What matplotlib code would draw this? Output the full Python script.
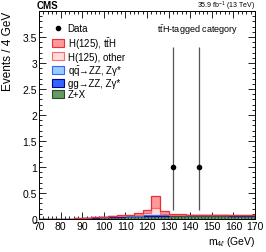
import numpy as np
import matplotlib
matplotlib.use("Agg")
import matplotlib.pyplot as plt
from matplotlib.patches import Patch
from matplotlib.lines import Line2D
from matplotlib.ticker import MultipleLocator, FixedLocator

plt.rcParams['font.family'] = ['Liberation Sans', 'DejaVu Sans']
plt.rcParams['mathtext.fontset'] = 'custom'
plt.rcParams['mathtext.rm'] = 'Liberation Sans'
plt.rcParams['mathtext.it'] = 'Liberation Sans:italic'
plt.rcParams['mathtext.bf'] = 'Liberation Sans:bold'
plt.rcParams['hatch.linewidth'] = 0.8

# ---- data ----
bin_edges = list(range(70, 171, 4))   # 25 bins of 4 GeV
zx     = [0, 0, 0, 0, 0.005, 0.010, 0.020, 0.030, 0.040, 0.045, 0.050, 0.055, 0.060,
          0.060, 0.060, 0.065, 0.065, 0.065, 0.065, 0.065, 0.065, 0.065, 0.060, 0.060, 0.060]
gg_zz  = [0, 0, 0, 0, 0.002, 0.003, 0.003, 0.003, 0.003, 0.003, 0.003, 0.003, 0.003,
          0.003, 0.003, 0.004, 0.004, 0.004, 0.004, 0.004, 0.004, 0.004, 0.004, 0.004, 0.004]
qq_zz  = [0, 0, 0, 0, 0.006, 0.012, 0.010, 0.008, 0.006, 0.006, 0.006, 0.006, 0.006,
          0.007, 0.007, 0.008, 0.008, 0.008, 0.008, 0.008, 0.008, 0.008, 0.008, 0.008, 0.008]
h_other = [0, 0, 0, 0, 0, 0, 0, 0.002, 0.004, 0.006, 0.010, 0.018, 0.040,
           0.140, 0.035, 0.008, 0.004, 0.003, 0.002, 0.002, 0.002, 0.002, 0.001, 0.001, 0.001]
h_tth  = [0, 0, 0, 0, 0, 0, 0, 0.004, 0.008, 0.010, 0.015, 0.025, 0.060,
          0.230, 0.050, 0.012, 0.006, 0.004, 0.003, 0.003, 0.002, 0.002, 0.002, 0.001, 0.001]

data_x = [132, 144]
data_y = [1, 1]
data_err_lo = [0.827, 0.827]
data_err_hi = [2.300, 2.300]

legend_labels = ["Data", r"H(125), $\mathrm{t\bar{t}}$H", "H(125), other",
                 r"$\mathrm{q\bar{q}}$→ZZ, Zγ*", "gg→ZZ, Zγ*", "Z+X"]

# ---- styling ----
W, H = 266, 253
fig = plt.figure(figsize=(W / 100, H / 100), dpi=100)
ax = fig.add_axes([39 / W, 1 - 220 / H, (255 - 39) / W, (220 - 12) / H])

components = [
    (zx,      '#669966', '#1f4f1f', '|||||'),
    (gg_zz,   '#3366ff', '#000099', None),
    (qq_zz,   '#99ccff', '#3366ff', None),
    (h_other, '#ffdddd', '#ff6666', None),
    (h_tth,   '#ff9999', '#e8303b', None),
]
base = np.zeros(len(zx))
for vals, fc, ec, hatch in components:
    top = base + np.array(vals)
    ax.stairs(top, bin_edges, baseline=base, fill=True, facecolor=fc,
              edgecolor=ec if hatch else fc, hatch=hatch, linewidth=0, zorder=2)
    ax.stairs(top, bin_edges, baseline=None, color=ec, linewidth=0.9, zorder=3)
    base = top

ax.errorbar(data_x, data_y, yerr=[data_err_lo, data_err_hi], fmt='o', color='black',
            ecolor='#555555', elinewidth=0.9, markersize=3, capsize=0, zorder=5)

ax.set_xlim(70, 170)
ax.set_ylim(0, 4)
ax.xaxis.set_major_locator(MultipleLocator(10))
ax.xaxis.set_minor_locator(MultipleLocator(2))
ax.yaxis.set_major_locator(FixedLocator([0, 0.5, 1, 1.5, 2, 2.5, 3, 3.5]))
ax.yaxis.set_minor_locator(MultipleLocator(0.1))
ax.set_yticklabels(["0", "0.5", "1", "1.5", "2", "2.5", "3", "3.5"])
ax.tick_params(which='both', direction='in', top=True, right=True, labelsize=7.5,
               width=0.6, pad=1.5)
ax.tick_params(which='major', length=5)
ax.tick_params(which='minor', length=2.5)
for s in ax.spines.values():
    s.set_linewidth(0.7)

ax.set_ylabel("Events / 4 GeV", fontsize=8.5, loc='top', labelpad=6)
ax.set_xlabel(r"m$_{4\ell}$ (GeV)", fontsize=7.5, loc='right', labelpad=2)

fig.text(37 / W, 1 - 6 / H, "CMS", fontsize=7, fontweight='bold', va='center', ha='left')
fig.text(255 / W, 1 - 6 / H, r"35.9 fb$^{-1}$ (13 TeV)", fontsize=5, va='center', ha='right')
ax.text(0.92, 0.945, r"$\mathrm{t\bar{t}}$H-tagged category", transform=ax.transAxes,
        fontsize=6.5, ha='right', va='top')

handles = [
    Line2D([], [], marker='o', color='black', linestyle='none', markersize=3),
    Patch(facecolor='#ff9999', edgecolor='#e8303b', linewidth=0.8),
    Patch(facecolor='#ffdddd', edgecolor='#ff6666', linewidth=0.8),
    Patch(facecolor='#99ccff', edgecolor='#3366ff', linewidth=0.8),
    Patch(facecolor='#3366ff', edgecolor='#000099', linewidth=0.8),
    Patch(facecolor='#669966', edgecolor='#1f4f1f', linewidth=0.8),
]
ax.legend(handles, legend_labels, loc='upper left', bbox_to_anchor=(0.06, 0.94),
          frameon=False, fontsize=7, handlelength=1.2, handleheight=0.9,
          handletextpad=0.4, labelspacing=0.12, borderaxespad=0, borderpad=0)

fig.savefig("out.png", dpi=100)
